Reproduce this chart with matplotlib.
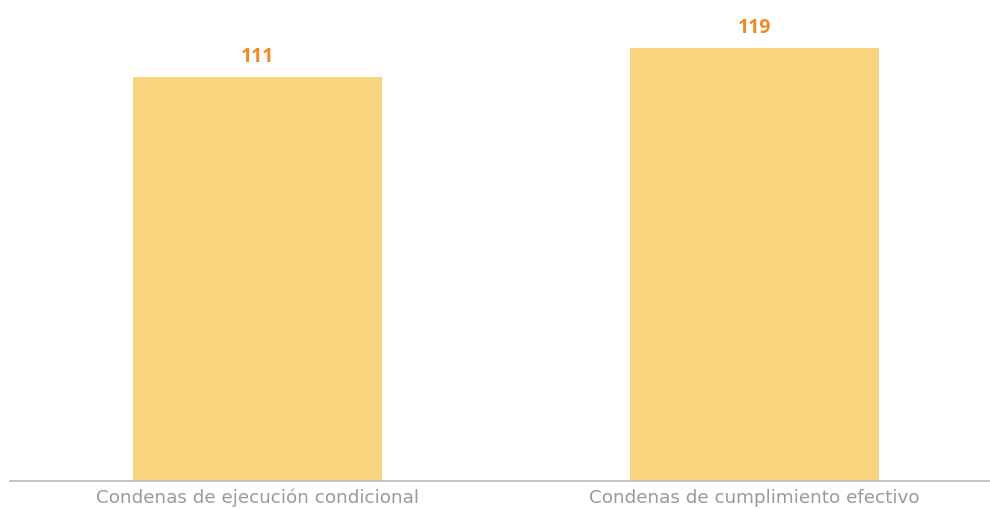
import matplotlib
matplotlib.use("Agg")
import matplotlib.pyplot as plt

categories = ["Condenas de ejecución condicional", "Condenas de cumplimiento efectivo"]
values = [111, 119]

fig = plt.figure(figsize=(9.9, 5.1), dpi=100)
ax = fig.add_axes([10/990, 28/510, 980/990, 482/510])
x = list(range(len(categories)))
ax.bar(x, values, width=0.501, color="#F8D47E", zorder=2)
for xi, v in zip(x, values):
    ax.text(xi, v + 3.0, str(v), ha="center", va="bottom", fontsize=14,
            fontweight="bold", color="#EE8A25", family="Open Sans")
ax.set_xlim(-0.498, 1.474)
ax.set_ylim(0, 132.4)
ax.set_xticks(x)
ax.set_xticklabels(categories, fontsize=13.2, color="#9A9A9A", family="DejaVu Sans")
ax.tick_params(axis="x", length=0, pad=5)
ax.set_yticks([])
for s in ["top", "right", "left"]:
    ax.spines[s].set_visible(False)
ax.spines["bottom"].set_color("#BBBBBB")
ax.spines["bottom"].set_linewidth(1.2)
fig.savefig("out.png", dpi=100)
